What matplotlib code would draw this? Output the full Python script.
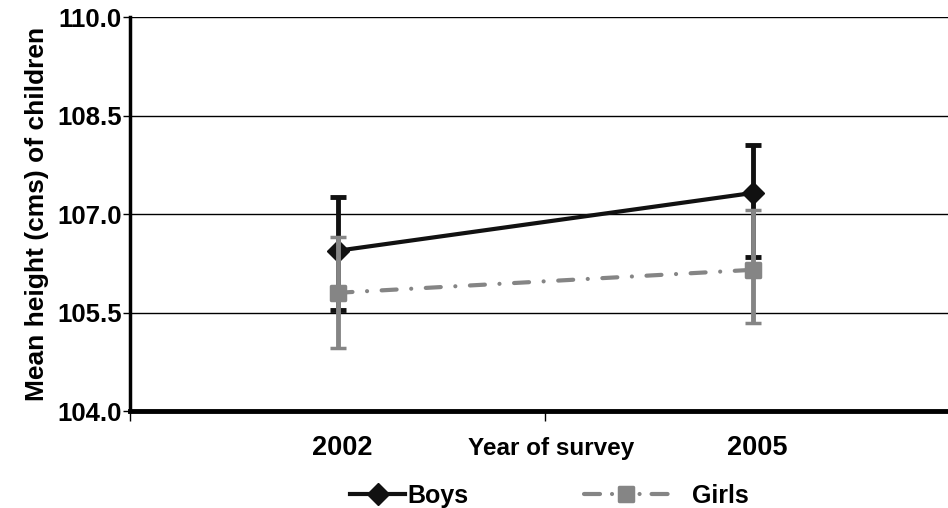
import matplotlib
matplotlib.use("Agg")
import matplotlib.pyplot as plt
from matplotlib.lines import Line2D
from matplotlib.markers import MarkerStyle

years = ["2002", "2005"]
boys_mean = [106.44, 107.32]
boys_low = [105.54, 106.35]
boys_high = [107.26, 108.05]
girls_mean = [105.80, 106.15]
girls_low = [104.96, 105.34]
girls_high = [106.65, 107.06]
yticks = [104.0, 105.5, 107.0, 108.5, 110.0]

plt.rcParams['font.family'] = ['Liberation Sans', 'DejaVu Sans']
plt.rcParams['font.weight'] = 'bold'

BOYS_C = '#111111'
GIRLS_C = '#858585'
girls_ls = (0, (3.6, 3.5, 0.01, 3.5))
legend_ls = (29.58, (3.84, 2.88, 0.01, 2.4, 1.8, 2.4, 0.01, 2.88, 3.84, 10))
sq = MarkerStyle('s', joinstyle='round')

fig = plt.figure(figsize=(9.48, 5.08), dpi=100)
ax = fig.add_axes([130/948, 1-411/508, 830/948, 394/508])

x = [0, 1]
boys_err = [[m - l for m, l in zip(boys_mean, boys_low)],
            [h - m for m, h in zip(boys_mean, boys_high)]]
girls_err = [[m - l for m, l in zip(girls_mean, girls_low)],
             [h - m for m, h in zip(girls_mean, girls_high)]]

ax.errorbar(x, boys_mean, yerr=boys_err, color=BOYS_C, lw=3, marker='D', ms=11.5,
            mfc=BOYS_C, mec=BOYS_C, ecolor=BOYS_C, elinewidth=3.5, capsize=6,
            capthick=3.5, zorder=3)
eb = ax.errorbar(x, girls_mean, yerr=girls_err, color=GIRLS_C, lw=3, ls=girls_ls,
                 marker=sq, ms=10.5, mew=2.5, mfc=GIRLS_C, mec=GIRLS_C, ecolor=GIRLS_C,
                 elinewidth=3.5, capsize=6, capthick=3.5, zorder=4)
eb[0].set_dash_capstyle('round')

ax.set_xlim(-0.5, 1.5)
ax.set_ylim(104.0, 110.0)
ax.set_yticks(yticks)
ax.set_yticklabels([f"{v:.1f}" for v in yticks], fontsize=18.5, fontweight='bold')
ax.yaxis.grid(True, color='black', lw=1)
ax.set_axisbelow(True)

ax.set_xticks([-0.5, 0.5, 1.5])
ax.set_xticklabels([])
ax.set_xticks([0.012, 1.012], minor=True)
ax.set_xticklabels(years, minor=True, fontsize=19.5, fontweight='bold')
ax.tick_params(axis='x', which='major', length=7, width=1, direction='out')
ax.tick_params(axis='x', which='minor', length=0, pad=17)
ax.tick_params(axis='y', length=5, width=1, direction='out', pad=1)

for s in ['top', 'right']:
    ax.spines[s].set_visible(False)
ax.spines['left'].set_linewidth(2.5)
ax.spines['bottom'].set_linewidth(3.5)

ax.set_ylabel("Mean height (cms) of children", fontsize=19, fontweight='bold', labelpad=6)
fig.text(551/948, 1-449/508, "Year of survey", ha='center', va='center',
         fontsize=17.5, fontweight='bold')

h_boys = Line2D([], [], color=BOYS_C, lw=3, marker='D', ms=11.5, mfc=BOYS_C, mec=BOYS_C)
h_girls = Line2D([], [], color=GIRLS_C, lw=3, ls=legend_ls, marker=sq, ms=10.5, mew=2.5,
                 mfc=GIRLS_C, mec=GIRLS_C, dash_capstyle='round')
fig.legend([h_boys], ['Boys'], loc='center left', bbox_to_anchor=(350/948, 1-496/508),
           frameon=False, fontsize=18, handlelength=2.2, handletextpad=0.1, borderpad=0,
           borderaxespad=0)
fig.legend([h_girls], ['Girls'], loc='center left', bbox_to_anchor=(582/948, 1-496/508),
           frameon=False, fontsize=18, handlelength=3.5, handletextpad=0.9, borderpad=0,
           borderaxespad=0)

fig.savefig("out.png", dpi=100)
